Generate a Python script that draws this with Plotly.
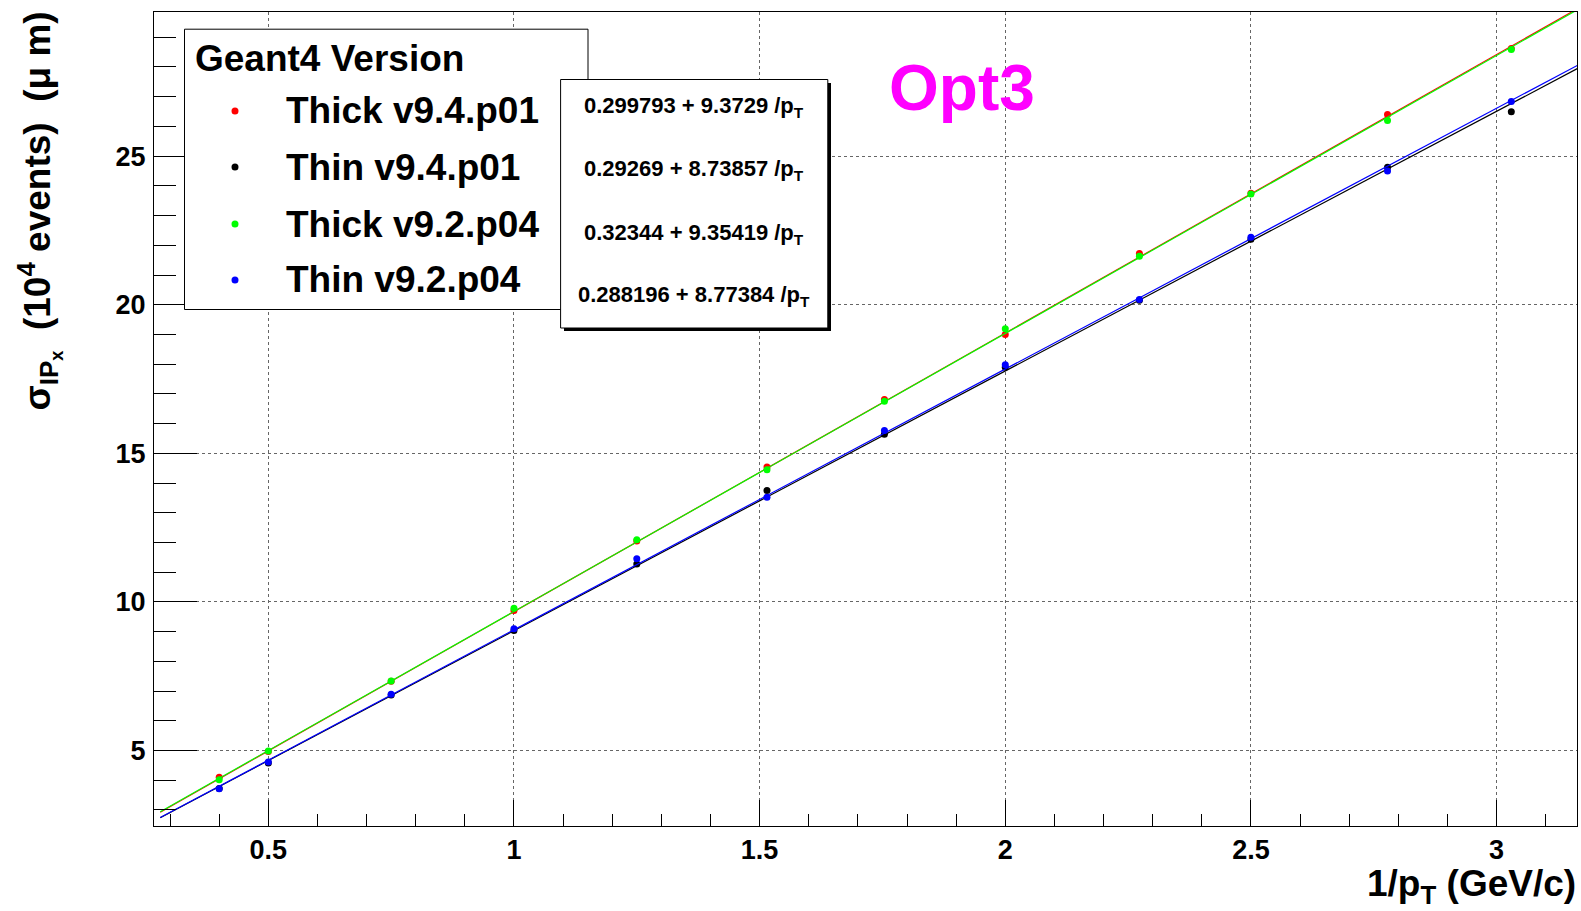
import plotly.graph_objects as go

# ---------------- data ----------------
inv_pt = [0.4, 0.5, 0.75, 1.0, 1.25, 1.515, 1.754, 2.0, 2.273, 2.5, 2.778, 3.03]
thick_v94 = [4.10, 4.97, 7.33, 9.71, 12.05, 14.54, 16.81, 19.00, 21.72, 23.75, 26.40, 28.62]
thin_v94 = [3.72, 4.58, 6.87, 9.04, 11.28, 13.75, 15.64, 17.90, 20.15, 22.20, 24.63, 26.49]
thick_v92 = [4.02, 4.98, 7.34, 9.79, 12.09, 14.45, 16.75, 19.19, 21.63, 23.73, 26.20, 28.59]
thin_v92 = [3.71, 4.61, 6.89, 9.10, 11.45, 13.52, 15.77, 17.98, 20.18, 22.27, 24.50, 26.84]

series_names = ["Thick v9.4.p01", "Thin v9.4.p01", "Thick v9.2.p04", "Thin v9.2.p04"]
series_values = [thick_v94, thin_v94, thick_v92, thin_v92]
series_colors = ["#ff0000", "#000000", "#00ff00", "#0000ff"]
fit_intercepts = [0.299793, 0.29269, 0.32344, 0.288196]
fit_slopes = [9.3729, 8.73857, 9.35419, 8.77384]
fit_range = [0.28, 3.2]

x_range = [0.2673, 3.1637]
y_range = [2.46, 29.85]

# ---------------- layout helpers (pixel -> paper) ----------------
W_FIG, H_FIG = 1581, 911
L, R, T, B = 154, 1577, 12, 826
PW, PH = R - L, B - T


def px(x):
    return (x - L) / PW


def py(y):
    return (B - y) / PH


FONT = "Liberation Sans"

fig = go.Figure()

for name, vals, col, a, b in zip(series_names, series_values, series_colors,
                                 fit_intercepts, fit_slopes):
    fx = fit_range
    fy = [a + b * v for v in fx]
    fig.add_trace(go.Scatter(x=fx, y=fy, mode="lines",
                             line=dict(color=col, width=1.2),
                             showlegend=False, hoverinfo="skip"))
    fig.add_trace(go.Scatter(x=inv_pt, y=vals, mode="markers",
                             marker=dict(color=col, size=7, line=dict(width=0)),
                             showlegend=False, name=name))

shapes = []
annotations = []

# legend box
shapes.append(dict(type="rect", xref="paper", yref="paper",
                   x0=px(184.5), x1=px(588), y0=py(309.5), y1=py(29.2),
                   fillcolor="white", line=dict(color="black", width=1),
                   layer="above"))
annotations.append(dict(xref="paper", yref="paper", x=px(193), y=py(58.5),
                        xanchor="left", yanchor="middle", showarrow=False,
                        text="<b>Geant4 Version</b>",
                        font=dict(family=FONT, size=37, color="black")))
row_y = [111, 167, 224, 280]
for name, col, ry in zip(series_names, series_colors, row_y):
    r = 3.5
    shapes.append(dict(type="circle", xref="paper", yref="paper",
                       x0=px(235 - r), x1=px(235 + r),
                       y0=py(ry + r), y1=py(ry - r),
                       fillcolor=col, line=dict(width=0), layer="above"))
    annotations.append(dict(xref="paper", yref="paper", x=px(284), y=py(ry),
                            xanchor="left", yanchor="middle", showarrow=False,
                            text="<b>" + name + "</b>",
                            font=dict(family=FONT, size=37, color="black")))

# fit results box with shadow
shapes.append(dict(type="rect", xref="paper", yref="paper",
                   x0=px(564), x1=px(831), y0=py(331), y1=py(83),
                   fillcolor="black", line=dict(width=0), layer="above"))
shapes.append(dict(type="rect", xref="paper", yref="paper",
                   x0=px(560.6), x1=px(827.8), y0=py(328), y1=py(79.5),
                   fillcolor="white", line=dict(color="black", width=1),
                   layer="above"))
fit_y = [104, 167, 231, 293]
for a, b, fy in zip(fit_intercepts, fit_slopes, fit_y):
    annotations.append(dict(xref="paper", yref="paper", x=px(694), y=py(fy + 3),
                            xanchor="center", yanchor="middle", showarrow=False,
                            text="<b>%s + %s /p<sub>T</sub></b>" % (repr(a), repr(b)),
                            font=dict(family=FONT, size=22, color="black")))

# Opt3 label
annotations.append(dict(xref="paper", yref="paper", x=px(962), y=py(88),
                        xanchor="center", yanchor="middle", showarrow=False,
                        text="<b>Opt3</b>",
                        font=dict(family=FONT, size=64, color="#ff00ff")))

# axis titles
annotations.append(dict(xref="paper", yref="paper", x=px(1578), y=py(886),
                        xanchor="right", yanchor="middle", showarrow=False,
                        text="<b>1/p<sub>T</sub> (GeV/c)</b>",
                        font=dict(family=FONT, size=37, color="black")))
annotations.append(dict(xref="paper", yref="paper", x=px(40), y=py(10),
                        xanchor="center", yanchor="top", showarrow=False,
                        textangle=-90,
                        text="<b>σ<sub>IP<sub>x</sub></sub>\u00a0\u00a0(10<sup>4</sup> events)\u00a0\u00a0(μ m)</b>",
                        font=dict(family=FONT, size=37, color="black")))

axis_common = dict(showline=True, linecolor="black", linewidth=1, mirror=True,
                   ticks="inside", tickcolor="black", tickwidth=1,
                   showgrid=True, gridcolor="#666666", gridwidth=1, griddash="dot",
                   zeroline=False,
                   tickfont=dict(family=FONT, size=27, color="black", weight="bold"))

fig.update_layout(
    width=W_FIG, height=H_FIG,
    margin=dict(l=L, r=W_FIG - R, t=T, b=H_FIG - B, pad=0),
    paper_bgcolor="white", plot_bgcolor="white",
    showlegend=False,
    xaxis=dict(range=x_range, tick0=0, dtick=0.5, ticklen=26,
               minor=dict(tick0=0, dtick=0.1, ticks="inside", ticklen=12,
                          tickcolor="black", showgrid=False),
               ticklabelstandoff=0, **axis_common),
    yaxis=dict(range=y_range, tick0=0, dtick=5, ticklen=43,
               minor=dict(tick0=0, dtick=1, ticks="inside", ticklen=22,
                          tickcolor="black", showgrid=False),
               ticklabelstandoff=2, **axis_common),
    shapes=shapes, annotations=annotations,
)

fig.write_html("out.html")
